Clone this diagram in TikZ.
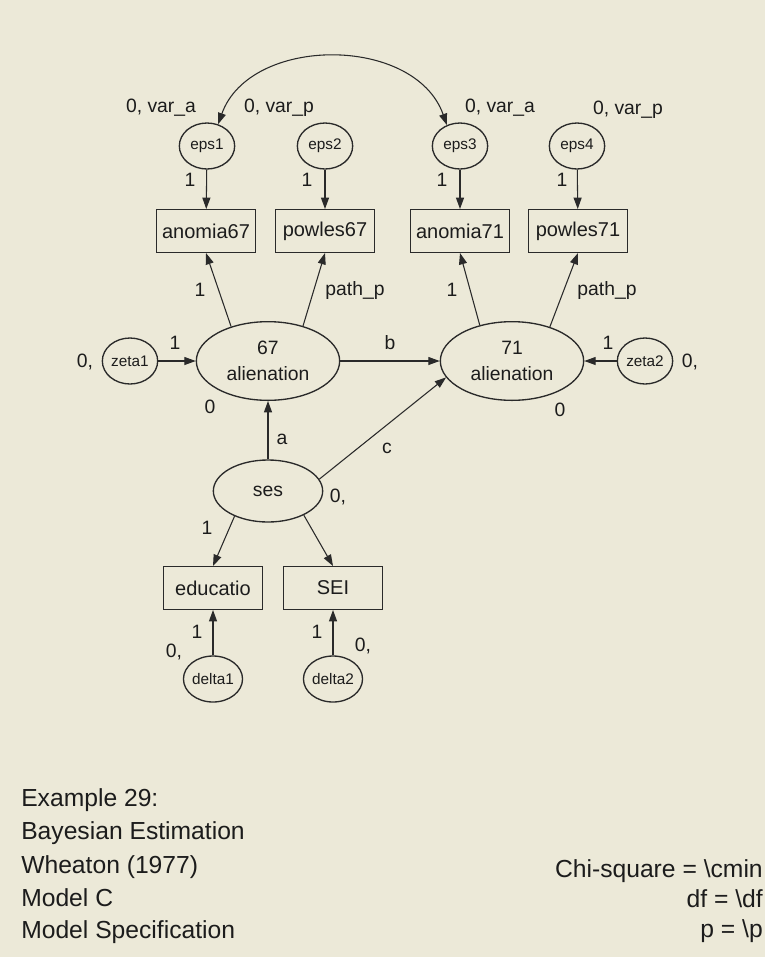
\documentclass[tikz,border=0pt]{standalone}
\usepackage{fontspec}
\setmainfont{Liberation Sans}
\usetikzlibrary{arrows.meta,positioning,shapes.geometric}
\definecolor{canvas}{HTML}{ECE9D8}
\definecolor{ink}{HTML}{1C1C1C}
\definecolor{edge}{HTML}{2A2A2A}

\begin{document}
\begin{tikzpicture}[x=0.75pt,y=-0.75pt]
    \tikzset{
      latent/.style={ellipse,draw=edge,line width=1pt,inner sep=0pt,minimum width=107.5pt,minimum height=59pt,align=center,text=ink,font=\fontsize{14.5}{20}\selectfont},
      factor/.style={ellipse,draw=edge,line width=1pt,inner sep=0pt,minimum width=82pt,minimum height=46.5pt,text=ink,font=\fontsize{14.5}{16}\selectfont},
      resid/.style={ellipse,draw=edge,line width=1pt,inner sep=0pt,minimum width=41.5pt,minimum height=34.5pt,text=ink,font=\fontsize{11.5}{13}\selectfont},
      observed/.style={rectangle,draw=edge,line width=1pt,inner sep=0pt,minimum width=74pt,minimum height=32pt,text=ink,font=\fontsize{15}{16}\selectfont},
      param/.style={inner sep=0pt,text=ink,font=\fontsize{14.5}{16}\selectfont},
      caption/.style={inner sep=0pt,text=ink,font=\fontsize{18.5}{20}\selectfont},
      path/.style={-{Triangle[length=8.5pt,width=6pt]},draw=edge,line width=0.8pt},
      covpath/.style={{Triangle[length=8.5pt,width=6pt]}-{Triangle[length=8.5pt,width=6pt]},draw=edge,line width=0.8pt}
    }
    % canvas
    \fill[canvas] (0,0) rectangle (765,957);
    \useasboundingbox (0,0) rectangle (765,957);

    % error terms and indicators
    \node[resid] (eps1) at (207,146) {eps1};
    \node[resid] (eps2) at (325,146) {eps2};
    \node[resid] (eps3) at (460,146) {eps3};
    \node[resid] (eps4) at (577,146) {eps4};
    \node[observed] (anomia67) at (206,231) {anomia67};
    \node[observed] (powles67) at (325,231) {powles67};
    \node[observed] (anomia71) at (460,231) {anomia71};
    \node[observed] (powles71) at (578,231) {powles71};

    % latent variables
    \node[latent] (alien67) at (268,361) {67\\alienation};
    \node[latent] (alien71) at (512,361) {71\\alienation};
    \node[resid] (zeta1) at (130,361) {zeta1};
    \node[resid] (zeta2) at (645,361) {zeta2};
    \node[factor] (ses) at (268,491) {ses};
    \node[observed] (educatio) at (213,588) {educatio};
    \node[observed] (sei) at (333,588) {SEI};
    \node[resid] (delta1) at (213,679) {delta1};
    \node[resid] (delta2) at (333,679) {delta2};

    % parameter labels
    \node[param] (var1) at (161,108) {0, var\_a};
    \node[param] (var2) at (279,108) {0, var\_p};
    \node[param] (var3) at (500,108) {0, var\_a};
    \node[param] (var4) at (628,110) {0, var\_p};
    \node[param] (fix1) at (190,180) {1};
    \node[param] (fix2) at (307,180) {1};
    \node[param] (fix3) at (442,180) {1};
    \node[param] (fix4) at (562,180) {1};
    \node[param] (load1) at (200,290) {1};
    \node[param] (load2) at (355,290) {path\_p};
    \node[param] (load3) at (452,290) {1};
    \node[param] (load4) at (607,290) {path\_p};
    \node[param] (fixz1) at (175,343) {1};
    \node[param] (varz1) at (85,362) {0,};
    \node[param] (fixz2) at (608,343) {1};
    \node[param] (varz2) at (690,362) {0,};
    \node[param] (pb) at (390,343) {b};
    \node[param] (mean67) at (210,407) {0};
    \node[param] (mean71) at (560,410) {0};
    \node[param] (pa) at (282,439) {a};
    \node[param] (pc) at (387,448) {c};
    \node[param] (varses) at (338,497) {0,};
    \node[param] (loadses) at (207,528) {1};
    \node[param] (fixd1) at (197,632) {1};
    \node[param] (fixd2) at (317,632) {1};
    \node[param] (vard1) at (174,652) {0,};
    \node[param] (vard2) at (363,646) {0,};

    % caption
    \node[caption,anchor=base west] (cap1) at (21,806) {Example 29:};
    \node[caption,anchor=base west] (cap2) at (21,839) {Bayesian Estimation};
    \node[caption,anchor=base west] (cap3) at (21,873) {Wheaton (1977)};
    \node[caption,anchor=base west] (cap4) at (21,906) {Model C};
    \node[caption,anchor=base west] (cap5) at (21,938) {Model Specification};
    \node[caption,anchor=base east] (fit1) at (763,877) {Chi-square = \textbackslash cmin};
    \node[caption,anchor=base east] (fit2) at (763,907) {df = \textbackslash df};
    \node[caption,anchor=base east] (fit3) at (763,937) {p = \textbackslash p};

    % paths
    \draw[covpath] (eps1.63) .. controls (250,35) and (415,35) .. (eps3.122);
    \draw[path] (eps1) -- (anomia67);
    \draw[path] (eps2) -- (powles67);
    \draw[path] (eps3) -- (anomia71);
    \draw[path] (eps4) -- (powles71);
    \draw[path] (alien67.137) -- (anomia67.south);
    \draw[path] (alien67.45) -- (powles67.south);
    \draw[path] (alien71.132) -- (anomia71.south);
    \draw[path] (alien71.42) -- (powles71.south);
    \draw[path] (zeta1) -- (alien67);
    \draw[path] (zeta2) -- (alien71);
    \draw[path] (alien67) -- (alien71);
    \draw[path] (ses) -- (alien67);
    \draw[path] (ses.13) -- (alien71.194);
    \draw[path] (ses.217) -- (educatio.north);
    \draw[path] (ses.326) -- (sei.north);
    \draw[path] (delta1) -- (educatio);
    \draw[path] (delta2) -- (sei);
  \end{tikzpicture}
\end{document}
